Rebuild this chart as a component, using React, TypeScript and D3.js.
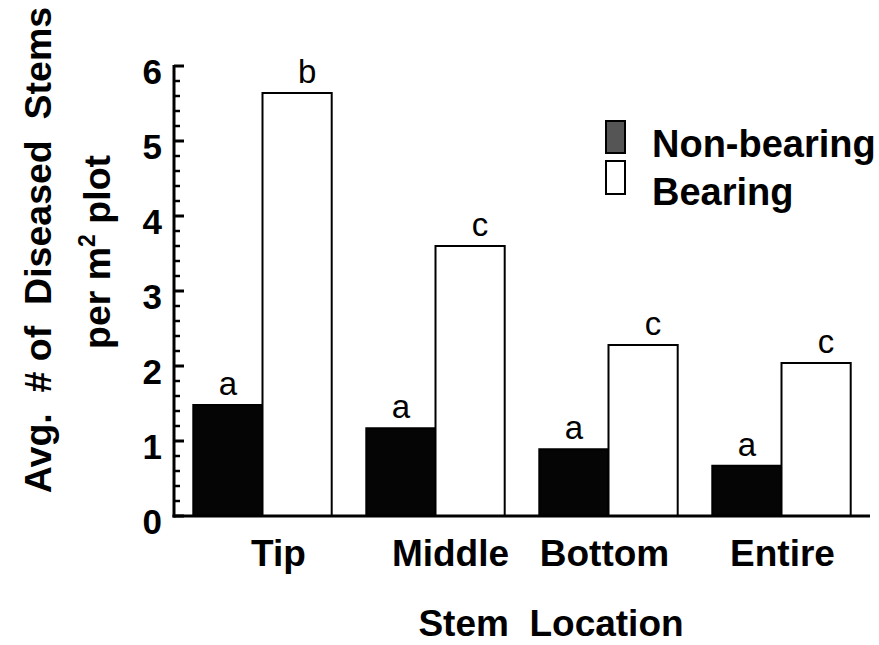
import React from "react";
import * as d3 from "d3";

// Average number of diseased stems per m² plot, by stem location
const categories = ["Tip", "Middle", "Bottom", "Entire"];
const nonBearing = [1.48, 1.17, 0.89, 0.67];
const bearing = [5.64, 3.6, 2.28, 2.04];
const nonBearingLetters = ["a", "a", "a", "a"];
const bearingLetters = ["b", "c", "c", "c"];
const yTickValues = [0, 1, 2, 3, 4, 5, 6];
const seriesNames = ["Non-bearing", "Bearing"];

const W = 879;
const H = 645;
const FONT = "'Liberation Sans', Arial, Helvetica, sans-serif";

export default function App() {
  const axisX = 174;
  const y = d3.scaleLinear().domain([0, 6]).range([516, 66]);
  const x0 = d3
    .scaleBand<string>()
    .domain(categories)
    .range([176, 868])
    .paddingInner(0.2)
    .paddingOuter(0.1);
  const x1 = d3
    .scaleBand<string>()
    .domain(seriesNames)
    .range([0, x0.bandwidth()])
    .padding(0);

  const minorTicks = d3.range(0, 6.0001, 0.2).filter(
    (v) => Math.abs(v - Math.round(v)) > 1e-6
  );
  const labelNudge = [16, 15, -4, 1];

  return (
    <svg
      width={W}
      height={H}
      style={{ position: "absolute", left: 0, top: 0, background: "#fff" }}
      fontFamily={FONT}
    >
      {/* bars */}
      {categories.map((c, i) => {
        const gx = x0(c)!;
        const nbX = gx + x1("Non-bearing")!;
        const bX = gx + x1("Bearing")!;
        const bw = x1.bandwidth();
        return (
          <g key={c}>
            <rect
              x={nbX}
              y={y(nonBearing[i])}
              width={bw}
              height={y(0) - y(nonBearing[i])}
              fill="#050505"
              stroke="#000"
              strokeWidth={2}
            />
            <rect
              x={bX}
              y={y(bearing[i])}
              width={bw}
              height={y(0) - y(bearing[i])}
              fill="#fff"
              stroke="#000"
              strokeWidth={2}
            />
            <text
              x={nbX + bw / 2}
              y={y(nonBearing[i]) - 10}
              textAnchor="middle"
              fontSize={33}
              fill="#000"
            >
              {nonBearingLetters[i]}
            </text>
            <text
              x={bX + bw / 2 + 10}
              y={y(bearing[i]) - 10}
              textAnchor="middle"
              fontSize={33}
              fill="#000"
            >
              {bearingLetters[i]}
            </text>
            <text
              x={gx + x0.bandwidth() / 2 + labelNudge[i]}
              y={566}
              textAnchor="middle"
              fontSize={37}
              fontWeight="bold"
              fill="#000"
            >
              {c}
            </text>
          </g>
        );
      })}

      {/* y axis */}
      <line
        x1={axisX}
        x2={axisX}
        y1={y(6) - 1}
        y2={y(0) + 1.5}
        stroke="#000"
        strokeWidth={3}
      />
      {yTickValues.map((v) => (
        <g key={v}>
          <line
            x1={axisX}
            x2={axisX + 10}
            y1={y(v)}
            y2={y(v)}
            stroke="#000"
            strokeWidth={3}
          />
          <text
            x={162}
            y={y(v) + 9}
            textAnchor="end"
            dominantBaseline="middle"
            fontSize={35}
            fontWeight="bold"
            fill="#000"
          >
            {v}
          </text>
        </g>
      ))}
      {minorTicks.map((v) => (
        <line
          key={v}
          x1={axisX}
          x2={axisX + 6}
          y1={y(v)}
          y2={y(v)}
          stroke="#000"
          strokeWidth={2.5}
        />
      ))}

      {/* x axis */}
      <line
        x1={axisX - 1.5}
        x2={870}
        y1={y(0)}
        y2={y(0)}
        stroke="#000"
        strokeWidth={3}
      />

      {/* axis titles */}
      <text
        x={551}
        y={636}
        textAnchor="middle"
        fontSize={37}
        fontWeight="bold"
        fill="#000"
        style={{ whiteSpace: "pre" }}
      >
        {"Stem  Location"}
      </text>
      <text
        transform="translate(51,250) rotate(-90)"
        textAnchor="middle"
        fontSize={37.5}
        fontWeight="bold"
        fill="#000"
        style={{ whiteSpace: "pre" }}
      >
        {"Avg.  # of  Diseased  Stems"}
      </text>
      <text
        transform="translate(110,252) rotate(-90)"
        textAnchor="middle"
        fontSize={37.5}
        fontWeight="bold"
        fill="#000"
      >
        per m
        <tspan fontSize={23} dy={-15}>
          2
        </tspan>
        <tspan dy={15}> plot</tspan>
      </text>

      {/* legend */}
      <rect x={606} y={121} width={19} height={32} fill="#555" stroke="#000" strokeWidth={2} />
      <rect x={606} y={161} width={19} height={33} fill="#fff" stroke="#000" strokeWidth={2} />
      <text x={652} y={157} fontSize={38} fontWeight="bold" fill="#000">
        {seriesNames[0]}
      </text>
      <text x={652} y={205} fontSize={38} fontWeight="bold" fill="#000">
        {seriesNames[1]}
      </text>
    </svg>
  );
}
